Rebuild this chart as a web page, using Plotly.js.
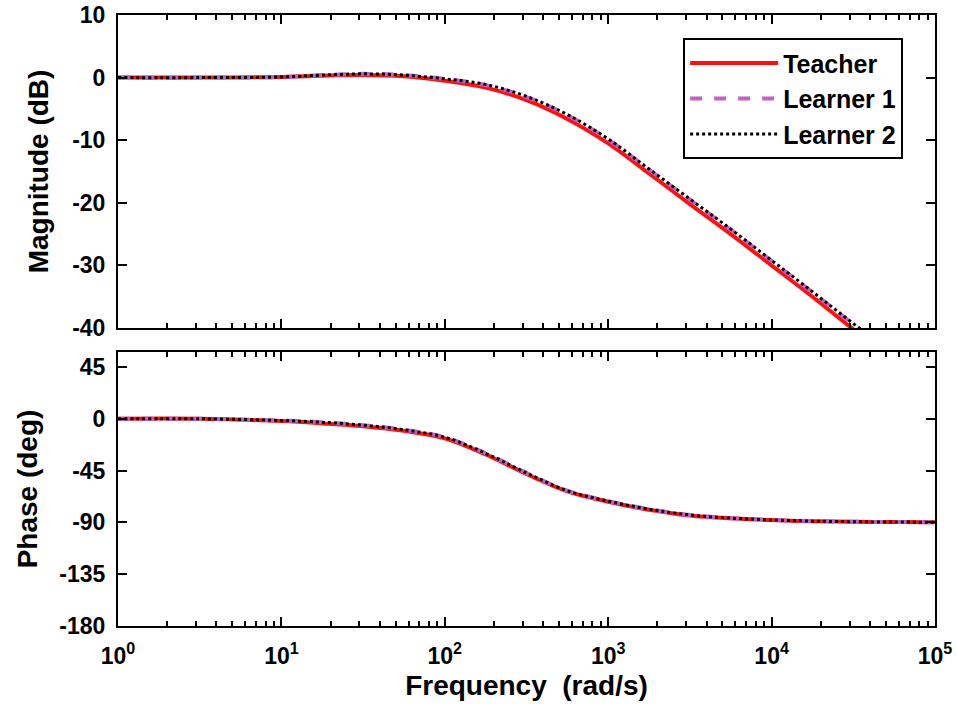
<!DOCTYPE html>
<html>
<head>
<meta charset="utf-8">
<script src="https://cdn.plot.ly/plotly-3.0.1.min.js"></script>
<style>html,body{margin:0;padding:0;background:#fff;}#chart{width:957px;height:713px;}</style>
</head>
<body>
<div id="chart"></div>
<script>
// Frequency (rad/s)
const freq = [1, 3.16, 10, 17.8, 31.6, 56.2, 100, 178, 316, 562, 1000, 1778, 3162, 5623, 10000, 17783, 31623, 56234, 100000];

// Magnitude (dB)
const magTeacher  = [0, 0, 0.1, 0.3, 0.4, 0.2, -0.5, -1.6, -3.6, -6.6, -10.5, -15.3, -20.2, -25.0, -30.0, -35.0, -40.2, -45, -50];
const magLearner1 = [0, 0, 0.1, 0.4, 0.6, 0.4, -0.2, -1.2, -3.1, -6.0, -9.9, -14.7, -19.5, -24.3, -29.3, -34.3, -39.4, -44.4, -49.4];
const magLearner2 = [0, 0, 0.1, 0.4, 0.6, 0.4, -0.2, -1.1, -3.0, -5.9, -9.8, -14.6, -19.4, -24.2, -29.2, -34.2, -39.3, -44.3, -49.3];

// Phase (deg)
const phTeacher  = [0, 0, -2.0, -4.0, -6.5, -10.5, -17, -31, -48, -63, -72, -79, -84, -86.5, -88, -89, -89.5, -89.7, -89.8];
const phLearner1 = [0, 0, -1.5, -3.0, -5.5, -9.5, -16, -30, -47, -62.5, -71.5, -78.5, -83.5, -86.3, -87.9, -88.9, -89.4, -89.7, -89.8];
const phLearner2 = [0, 0, -1.5, -3.0, -5.5, -9.5, -16, -30, -47, -62.5, -71.5, -78.5, -83.5, -86.3, -87.9, -88.9, -89.4, -89.7, -89.8];

const xTickVals = [1, 10, 100, 1000, 10000, 100000];
const xTickText = ['10<sup>0</sup>', '10<sup>1</sup>', '10<sup>2</sup>', '10<sup>3</sup>', '10<sup>4</sup>', '10<sup>5</sup>'];
const magTicks = [-40, -30, -20, -10, 0, 10];
const magTickText = ['-40', '-30', '-20', '-10', '0', '10'];
const phTicks = [-180, -135, -90, -45, 0, 45];
const phTickText = ['-180', '-135', '-90', '-45', '0', '45'];

const seriesNames = ['Teacher', 'Learner 1', 'Learner 2'];
const styles = [
  {color: '#ff1010', width: 4, dash: 'solid'},
  {color: '#c55ec5', width: 4, dash: 'dash'},
  {color: '#000000', width: 3, dash: 'dot'}
];
const magData = [magTeacher, magLearner1, magLearner2];
const phData = [phTeacher, phLearner1, phLearner2];

const traces = [];
for (let i = 0; i < 3; i++) {
  traces.push({x: freq, y: magData[i], type: 'scatter', mode: 'lines', name: seriesNames[i],
    legendgroup: 'g' + i,
    line: {color: styles[i].color, width: styles[i].width, dash: styles[i].dash, shape: 'spline'},
    xaxis: 'x', yaxis: 'y', showlegend: true});
}
for (let i = 0; i < 3; i++) {
  traces.push({x: freq, y: phData[i], type: 'scatter', mode: 'lines', name: seriesNames[i],
    legendgroup: 'g' + i,
    line: {color: styles[i].color, width: styles[i].width, dash: styles[i].dash, shape: 'spline'},
    xaxis: 'x2', yaxis: 'y2', showlegend: false});
}

const FAM = 'Liberation Sans, Arial, sans-serif';
const tickFont = {family: FAM, size: 23, color: '#000', weight: 'bold'};
const titleFont = {family: FAM, size: 28, color: '#000', weight: 'bold'};

const commonX = {
  type: 'log', range: [0, 5], showgrid: false, zeroline: false,
  showline: true, linewidth: 2, linecolor: '#000', mirror: 'ticks',
  ticks: 'inside', ticklen: 9, tickwidth: 2, tickcolor: '#000',
  tickvals: xTickVals, ticktext: xTickText, tickfont: tickFont,
  minor: {ticks: 'inside', ticklen: 5, tickwidth: 2, tickcolor: '#000', dtick: 'D1', showgrid: false}
};
const commonY = {
  showgrid: false, zeroline: false, showline: true, linewidth: 2, linecolor: '#000', mirror: 'ticks',
  ticks: 'inside', ticklen: 9, tickwidth: 2, tickcolor: '#000', tickfont: tickFont, ticklabelstandoff: 6
};

const layout = {
  width: 957, height: 713,
  margin: {l: 118, r: 22, t: 15, b: 87},
  paper_bgcolor: '#fff', plot_bgcolor: '#fff',
  showlegend: true,
  legend: {
    x: 0.961, y: 0.962, xanchor: 'right', yanchor: 'top',
    bgcolor: '#fff', bordercolor: '#000', borderwidth: 2,
    font: {family: FAM, size: 25, color: '#000', weight: 'bold'},
    itemwidth: 88, tracegroupgap: 0
  },
  xaxis: Object.assign({}, commonX, {anchor: 'y', showticklabels: false, matches: 'x2'}),
  yaxis: Object.assign({}, commonY, {domain: [0.4877, 1], range: [-40, 10], tickvals: magTicks, ticktext: magTickText,
    title: {text: 'Magnitude (dB)', font: titleFont, standoff: 15}}),
  xaxis2: Object.assign({}, commonX, {anchor: 'y2', ticklabelstandoff: 8,
    title: {text: 'Frequency&nbsp;&nbsp;(rad/s)', font: titleFont, standoff: 8}}),
  yaxis2: Object.assign({}, commonY, {domain: [0, 0.4484], range: [-180, 58], tickvals: phTicks, ticktext: phTickText,
    title: {text: 'Phase (deg)', font: titleFont, standoff: 14}})
};

Plotly.newPlot('chart', traces, layout, {displayModeBar: false, staticPlot: true});
</script>
</body>
</html>
